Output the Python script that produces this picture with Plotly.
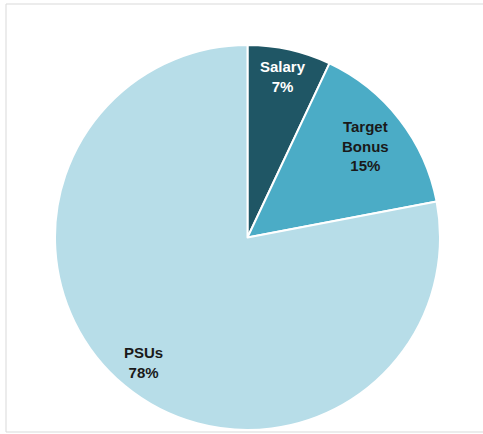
import math
import plotly.graph_objects as go

labels = ["Salary", "Target Bonus", "PSUs"]
values = [7, 15, 78]
label_text = ["Salary<br>7%", "Target<br>Bonus<br>15%", "PSUs<br>78%"]
colors = ["#1f5665", "#4bacc6", "#b7dde8"]
text_colors = ["#ffffff", "#1a1a1a", "#1a1a1a"]
label_radius = [0.855, 0.775, 0.845]

W, H = 483, 434
L, T, S = 55, 45, 385  # plot area left, top, size (px)

fig = go.Figure(go.Pie(
    labels=labels, values=values, sort=False, direction="clockwise",
    rotation=0, textinfo="none", hoverinfo="label+percent",
    marker=dict(colors=colors, line=dict(color="white", width=2)),
    showlegend=False,
))

total = sum(values)
cum = 0
for lab, v, tc, r in zip(label_text, values, text_colors, label_radius):
    mid = (cum + v / 2) / total * 2 * math.pi
    cum += v
    x = 0.5 + r * 0.5 * math.sin(mid)
    y = 0.5 + r * 0.5 * math.cos(mid)
    fig.add_annotation(x=x, y=y, xref="paper", yref="paper", text="<b>" + lab + "</b>",
                       xanchor="center", yanchor="middle",
                       showarrow=False, font=dict(family="Liberation Sans, Arial", size=15, color=tc),
                       align="center")

def px_x(p):
    return (p - L) / S

def px_y(p):
    return 1 - (p - T) / S

fig.add_shape(type="rect", xref="paper", yref="paper",
              x0=px_x(6), x1=px_x(490), y0=px_y(432), y1=px_y(4),
              line=dict(color="#d9d9d9", width=1), layer="below")

fig.update_layout(
    width=W, height=H,
    margin=dict(l=L, t=T, r=W - L - S, b=H - T - S),
    paper_bgcolor="white", plot_bgcolor="white",
)

fig.write_html("out.html")
